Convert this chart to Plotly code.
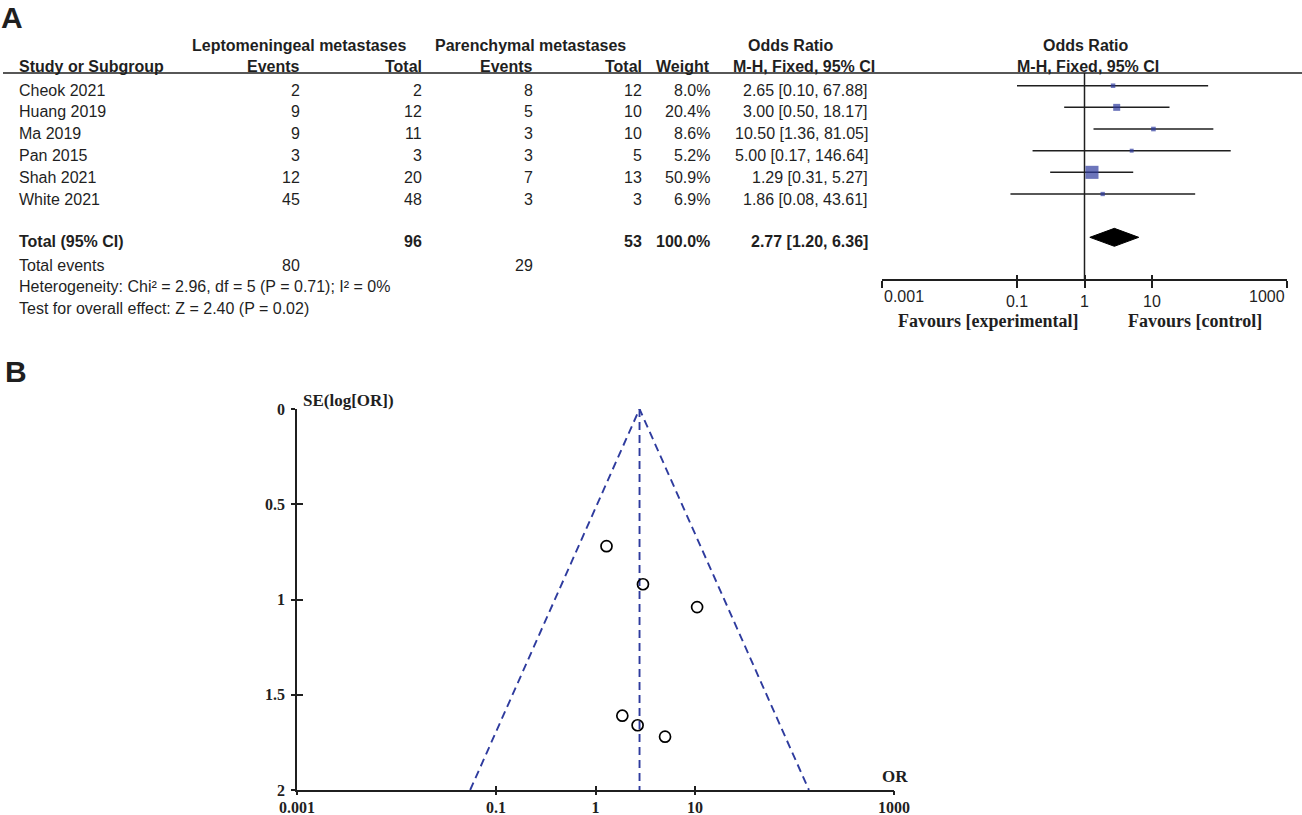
import math
import plotly.graph_objects as go

# ─── data ─────────────────────────────────────────────────────
studies = ["Cheok 2021", "Huang 2019", "Ma 2019", "Pan 2015", "Shah 2021", "White 2021"]
lep_events = [2, 9, 9, 3, 12, 45]
lep_total = [2, 12, 11, 3, 20, 48]
par_events = [8, 5, 3, 3, 7, 3]
par_total = [12, 10, 10, 5, 13, 3]
weight = [8.0, 20.4, 8.6, 5.2, 50.9, 6.9]
odds = [2.65, 3.00, 10.50, 5.00, 1.29, 1.86]
ci_low = [0.10, 0.50, 1.36, 0.17, 0.31, 0.08]
ci_high = [67.88, 18.17, 81.05, 146.64, 5.27, 43.61]

pooled = [2.77, 1.20, 6.36]  # OR, low, high
total_lep, total_par = 96, 53
events_lep, events_par = 80, 29
heterogeneity = "Heterogeneity: Chi² = 2.96, df = 5 (P = 0.71); I² = 0%"
overall = "Test for overall effect: Z = 2.40 (P = 0.02)"

# funnel plot
se_log_or = [1.66, 0.92, 1.04, 1.72, 0.72, 1.61]
funnel_or = [0.055, 2.77, 139.6]
funnel_se = [2, 0, 2]
or_ticks = [0.001, 0.1, 1, 10, 1000]
or_tick_text = ["0.001", "0.1", "1", "10", "1000"]
se_ticks = [0, 0.5, 1, 1.5, 2]

# ─── layout helpers (pixels -> paper) ─────────────────────────
W, H = 1302, 815
SANS = "Arial, Liberation Sans, sans-serif"
SERIF = "Times New Roman, Liberation Serif, serif"
INK = "#1f1f1f"
BLUE = "#2E3B9E"


def px(x):
    return x / W


def py(y):
    return 1 - y / H


annotations = []


def txt(x, y, s, anchor="left", bold=False, size=16, family=SANS, yanchor="middle"):
    annotations.append(dict(
        x=px(x), y=py(y), xref="paper", yref="paper", text=s, showarrow=False,
        xanchor=anchor, yanchor=yanchor, borderpad=0,
        font=dict(family=family, size=size, color=INK, weight="bold" if bold else "normal"),
    ))


fig = go.Figure()

# ─── forest plot ──────────────────────────────────────────────
rows = list(range(len(studies)))
pooled_row = 7
row_top, row_bottom = -0.586, 8.924

ci_x, ci_y = [], []
for r, lo, hi in zip(rows, ci_low, ci_high):
    ci_x += [lo, hi, None]
    ci_y += [r, r, None]

fig.add_trace(go.Scatter(x=[1, 1], y=[row_top, row_bottom], mode="lines",
                         line=dict(color=INK, width=1.5), xaxis="x", yaxis="y"))
fig.add_trace(go.Scatter(x=ci_x, y=ci_y, mode="lines",
                         line=dict(color=INK, width=1.5), xaxis="x", yaxis="y"))
fig.add_trace(go.Scatter(x=odds, y=rows, mode="markers",
                         marker=dict(symbol="square", color=BLUE,
                                     size=[2.9 + 0.2 * w for w in weight], line=dict(width=0)),
                         xaxis="x", yaxis="y"))
h = 0.415
fig.add_trace(go.Scatter(x=[pooled[1], pooled[0], pooled[2], pooled[0], pooled[1]],
                         y=[pooled_row, pooled_row - h, pooled_row, pooled_row + h, pooled_row],
                         mode="lines", fill="toself", fillcolor="black",
                         line=dict(color="black", width=1), xaxis="x", yaxis="y"))
fig.add_trace(go.Scatter(x=[1], y=[0], mode="markers", marker=dict(opacity=0),
                         xaxis="x3", yaxis="y", hoverinfo="skip"))

# ─── funnel plot ──────────────────────────────────────────────
fig.add_trace(go.Scatter(x=funnel_or, y=funnel_se, mode="lines",
                         line=dict(color=BLUE, width=1.9, dash="8px,5px"),
                         xaxis="x2", yaxis="y2", cliponaxis=False))
fig.add_trace(go.Scatter(x=[pooled[0], pooled[0]], y=[funnel_se[1], funnel_se[0]], mode="lines",
                         line=dict(color=BLUE, width=1.9, dash="8px,5px"),
                         xaxis="x2", yaxis="y2", cliponaxis=False))
fig.add_trace(go.Scatter(x=odds, y=se_log_or, mode="markers",
                         marker=dict(symbol="circle-open", color="black", size=11,
                                     line=dict(width=1.7, color="black")),
                         xaxis="x2", yaxis="y2", cliponaxis=False))
fig.add_trace(go.Scatter(x=[1], y=[1], mode="markers", marker=dict(opacity=0),
                         xaxis="x4", yaxis="y2", hoverinfo="skip"))
fig.add_trace(go.Scatter(x=[1], y=[1], mode="markers", marker=dict(opacity=0),
                         xaxis="x2", yaxis="y3", hoverinfo="skip"))

# ─── table text ───────────────────────────────────────────────
txt(0, 0, "A", bold=True, size=30, yanchor="top")
txt(4, 371, "B", bold=True, size=30)

txt(298.5, 45, "Leptomeningeal metastases", "center", True)
txt(530, 45, "Parenchymal metastases", "center", True)
txt(791, 45, "Odds Ratio", "center", True)
txt(1086, 45, "Odds Ratio", "center", True)

txt(18, 67, "Study or Subgroup", "left", True)
txt(301, 67, "Events", "right", True)
txt(423, 67, "Total", "right", True)
txt(534, 67, "Events", "right", True)
txt(643, 67, "Total", "right", True)
txt(711, 67, "Weight", "right", True)
txt(876, 67, "M-H, Fixed, 95% CI", "right", True)
txt(1088, 67, "M-H, Fixed, 95% CI", "center", True)

for i, s in enumerate(studies):
    y = 90 + 21.8 * i
    txt(18, y, s)
    txt(301, y, str(lep_events[i]), "right")
    txt(423, y, str(lep_total[i]), "right")
    txt(534, y, str(par_events[i]), "right")
    txt(643, y, str(par_total[i]), "right")
    txt(711, y, f"{weight[i]:.1f}%", "right")
    txt(869, y, f"{odds[i]:.2f} [{ci_low[i]:.2f}, {ci_high[i]:.2f}]", "right")

txt(18, 241, "Total (95% CI)", "left", True)
txt(423, 241, str(total_lep), "right", True)
txt(643, 241, str(total_par), "right", True)
txt(711, 241, f"{sum(weight):.1f}%", "right", True)
txt(869, 241, f"{pooled[0]:.2f} [{pooled[1]:.2f}, {pooled[2]:.2f}]", "right", True)
txt(18, 265, "Total events")
txt(301, 265, str(events_lep), "right")
txt(534, 265, str(events_par), "right")
txt(18, 286, heterogeneity)
txt(18, 308, overall)

txt(988, 321, "Favours [experimental]", "center", True, 18, SERIF)
txt(1195, 321, "Favours [control]", "center", True, 18, SERIF)

# end tick labels of the forest axis sit inside the axis ends
for v, s, a in [(or_ticks[0], or_tick_text[0], "left"), (or_ticks[-1], or_tick_text[-1], "right")]:
    annotations.append(dict(x=math.log10(v), xref="x", y=py(296), yref="paper",
                            text=s, showarrow=False, xanchor=a, yanchor="middle",
                            font=dict(family=SANS, size=16, color=INK)))

txt(302, 400, "SE(log[OR])", "left", True, 17, SERIF)
txt(895, 776, "OR", "center", True, 17, SERIF)

# header rule
shapes = [dict(type="line", xref="paper", yref="paper", x0=px(3), x1=1, y0=py(73), y1=py(73),
               line=dict(color=INK, width=1.5))]

common = dict(showgrid=False, zeroline=False, automargin=False)
forest_x = dict(type="log", range=[-3, 3], tickvals=or_ticks, **common)
funnel_x = dict(type="log", range=[-3, 3], tickvals=or_ticks, **common)

fig.update_layout(
    width=W, height=H, margin=dict(l=0, r=0, t=0, b=0, pad=0, autoexpand=False),
    paper_bgcolor="white", plot_bgcolor="rgba(0,0,0,0)", showlegend=False,
    xaxis=dict(**forest_x, domain=[px(882), px(1287)], anchor="y",
               ticktext=["", "0.1", "1", "10", ""], showline=True, linecolor=INK, linewidth=1.5,
               ticks="outside", ticklen=7, tickwidth=1.5, tickcolor=INK,
               tickfont=dict(family=SANS, size=16, color=INK)),
    xaxis3=dict(**forest_x, overlaying="x", anchor="y", showticklabels=False,
                ticks="inside", ticklen=4, tickwidth=1.5, tickcolor=INK, showline=False),
    yaxis=dict(domain=[py(279), py(73)], range=[row_bottom, row_top], visible=False,
               anchor="x", automargin=False),
    xaxis2=dict(**funnel_x, domain=[px(297), px(894)], anchor="y2",
                ticktext=or_tick_text, showline=True, linecolor=INK, linewidth=1.5,
                ticks="inside", ticklen=4, tickwidth=1.5, tickcolor=INK, ticklabelstandoff=2,
                tickfont=dict(family=SERIF, size=16, color=INK, weight="bold")),
    xaxis4=dict(**funnel_x, overlaying="x2", anchor="y2", showticklabels=False,
                ticks="outside", ticklen=4, tickwidth=1.5, tickcolor=INK, showline=False),
    yaxis2=dict(**common, domain=[py(790), py(409)], range=[2, 0], anchor="x2", tickvals=se_ticks,
                showline=True, linecolor=INK, linewidth=1.5,
                ticks="outside", ticklen=4, tickwidth=1.5, tickcolor=INK, ticklabelstandoff=3,
                tickfont=dict(family=SERIF, size=16, color=INK, weight="bold")),
    yaxis3=dict(**common, range=[2, 0], overlaying="y2", anchor="x2", tickvals=se_ticks,
                showticklabels=False, ticks="inside", ticklen=6, tickwidth=1.5,
                tickcolor=INK, showline=False),
    annotations=annotations,
    shapes=shapes,
)

fig.write_html("out.html", config={"displayModeBar": False},
               post_script="document.body.style.margin='0';")
